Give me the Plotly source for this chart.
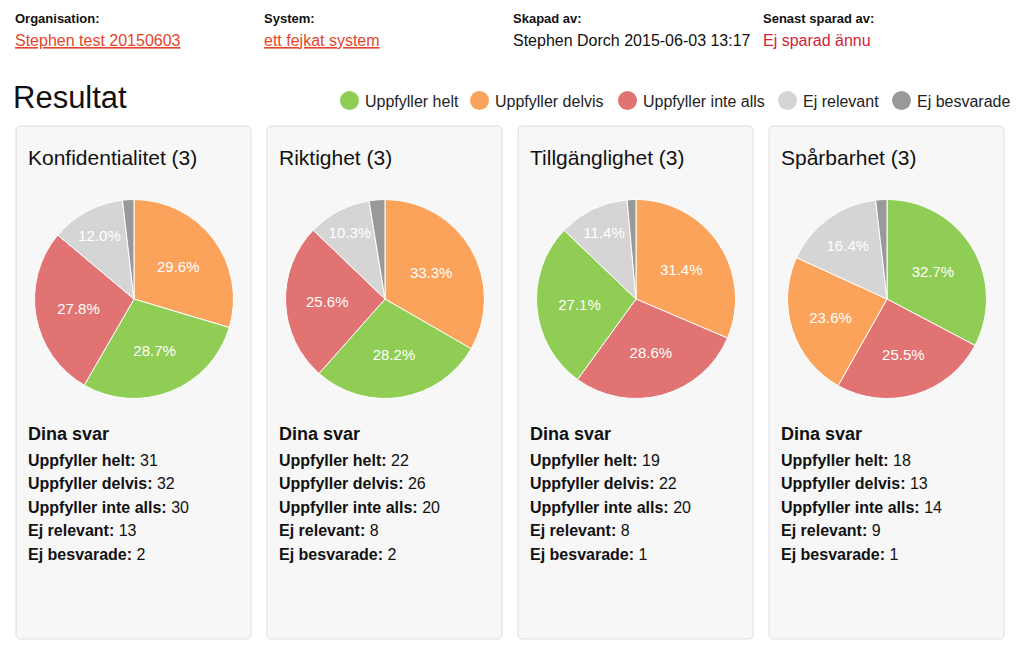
import plotly.graph_objects as go

# ---- data -------------------------------------------------------------------
header_labels = ["Organisation:", "System:", "Skapad av:", "Senast sparad av:"]
header_values = ["Stephen test 20150603", "ett fejkat system",
                 "Stephen Dorch 2015-06-03 13:17", "Ej sparad ännu"]

categories = ["Uppfyller helt", "Uppfyller delvis", "Uppfyller inte alls",
              "Ej relevant", "Ej besvarade"]
colors = ["#8fcd55", "#fca35b", "#e17372", "#d5d5d5", "#999999"]

areas = ["Konfidentialitet", "Riktighet", "Tillgänglighet", "Spårbarhet"]
area_level = [3, 3, 3, 3]
konfidentialitet = [31, 32, 30, 13, 2]
riktighet = [22, 26, 20, 8, 2]
tillganglighet = [19, 22, 20, 8, 1]
sparbarhet = [18, 13, 14, 9, 1]
answers = [konfidentialitet, riktighet, tillganglighet, sparbarhet]

# ---- page geometry (pixels) ---------------------------------------------------
W, H = 1024, 651
FONT = "Liberation Sans, Arial, Helvetica, sans-serif"
CARD_X0, CARD_STEP, CARD_W = 16, 251, 235
CARD_TOP, CARD_BOTTOM = 126, 639
PIE_CY, PIE_R = 299, 99.5


def rounded_rect(x0, y0, x1, y1, r=5):
    return (f"M {x0+r},{y0} L {x1-r},{y0} Q {x1},{y0} {x1},{y0+r} "
            f"L {x1},{y1-r} Q {x1},{y1} {x1-r},{y1} L {x0+r},{y1} "
            f"Q {x0},{y1} {x0},{y1-r} L {x0},{y0+r} Q {x0},{y0} {x0+r},{y0} Z")


fig = go.Figure()
shapes, annotations = [], []

# header
header_x = [13, 262, 511, 761]
value_colors = ["#e4452c", "#e4452c", "#111111", "#d0243a"]
for i, (lbl, val) in enumerate(zip(header_labels, header_values)):
    annotations.append(dict(x=header_x[i], y=18, text=f"<b>{lbl}</b>",
                            font=dict(size=13, color="#111")))
    underline = "under" if i < 2 else "none"
    annotations.append(dict(x=header_x[i], y=40, text=val,
                            font=dict(size=16, color=value_colors[i],
                                      lineposition=underline)))

annotations.append(dict(x=11, y=97, text="Resultat",
                        font=dict(size=31, color="#111")))

# legend
legend_x = [340, 470, 618, 778, 892]
for cx, name, col in zip(legend_x, categories, colors):
    shapes.append(dict(type="circle", xref="x", yref="y", x0=cx, x1=cx + 19,
                       y0=91, y1=110, fillcolor=col, line=dict(width=0)))
    annotations.append(dict(x=cx + 23, y=101, text=name,
                            font=dict(size=16, color="#222")))

# cards
for i, (area, lvl, vals) in enumerate(zip(areas, area_level, answers)):
    x0 = CARD_X0 + i * CARD_STEP
    shapes.append(dict(type="path", xref="x", yref="y",
                       path=rounded_rect(x0, CARD_TOP, x0 + CARD_W, CARD_BOTTOM),
                       fillcolor="#f7f7f7", line=dict(color="#dedede", width=1),
                       layer="below"))
    annotations.append(dict(x=x0 + 10, y=157, text=f"{area} ({lvl})",
                            font=dict(size=21, color="#111")))

    cx = x0 + 118
    fig.add_trace(go.Pie(
        labels=categories, values=vals, sort=True, direction="clockwise",
        rotation=0, marker=dict(colors=colors, line=dict(color="white", width=1)),
        texttemplate=["%{percent:.1%}"] * 4 + [""], textposition="inside",
        insidetextorientation="horizontal",
        insidetextfont=dict(color="white", size=15, family=FONT),
        domain=dict(x=[(cx - PIE_R) / W, (cx + PIE_R) / W],
                    y=[1 - (PIE_CY + PIE_R) / H, 1 - (PIE_CY - PIE_R) / H]),
        showlegend=False, hoverinfo="label+value+percent"))

    annotations.append(dict(x=x0 + 10, y=434, text="<b>Dina svar</b>",
                            font=dict(size=18, color="#111")))
    for j, (name, v) in enumerate(zip(categories, vals)):
        annotations.append(dict(x=x0 + 10, y=460 + j * 23.5,
                                text=f"<b>{name}:</b> {v}",
                                font=dict(size=16, color="#111")))

for a in annotations:
    a.update(xref="x", yref="y", xanchor="left", yanchor="middle",
             showarrow=False)
    a["font"].setdefault("family", FONT)

fig.update_layout(
    width=W, height=H, margin=dict(l=0, r=0, t=0, b=0),
    paper_bgcolor="white", plot_bgcolor="white",
    xaxis=dict(range=[0, W], visible=False, fixedrange=True),
    yaxis=dict(range=[H, 0], visible=False, fixedrange=True),
    shapes=shapes, annotations=annotations, font=dict(family=FONT),
)

# page body has a default 8px margin; drop it so the figure fills the window
fig.write_html("out.html", config={"displayModeBar": False},
               post_script="document.body.style.margin='0';"
                           "document.body.style.overflow='hidden';")
